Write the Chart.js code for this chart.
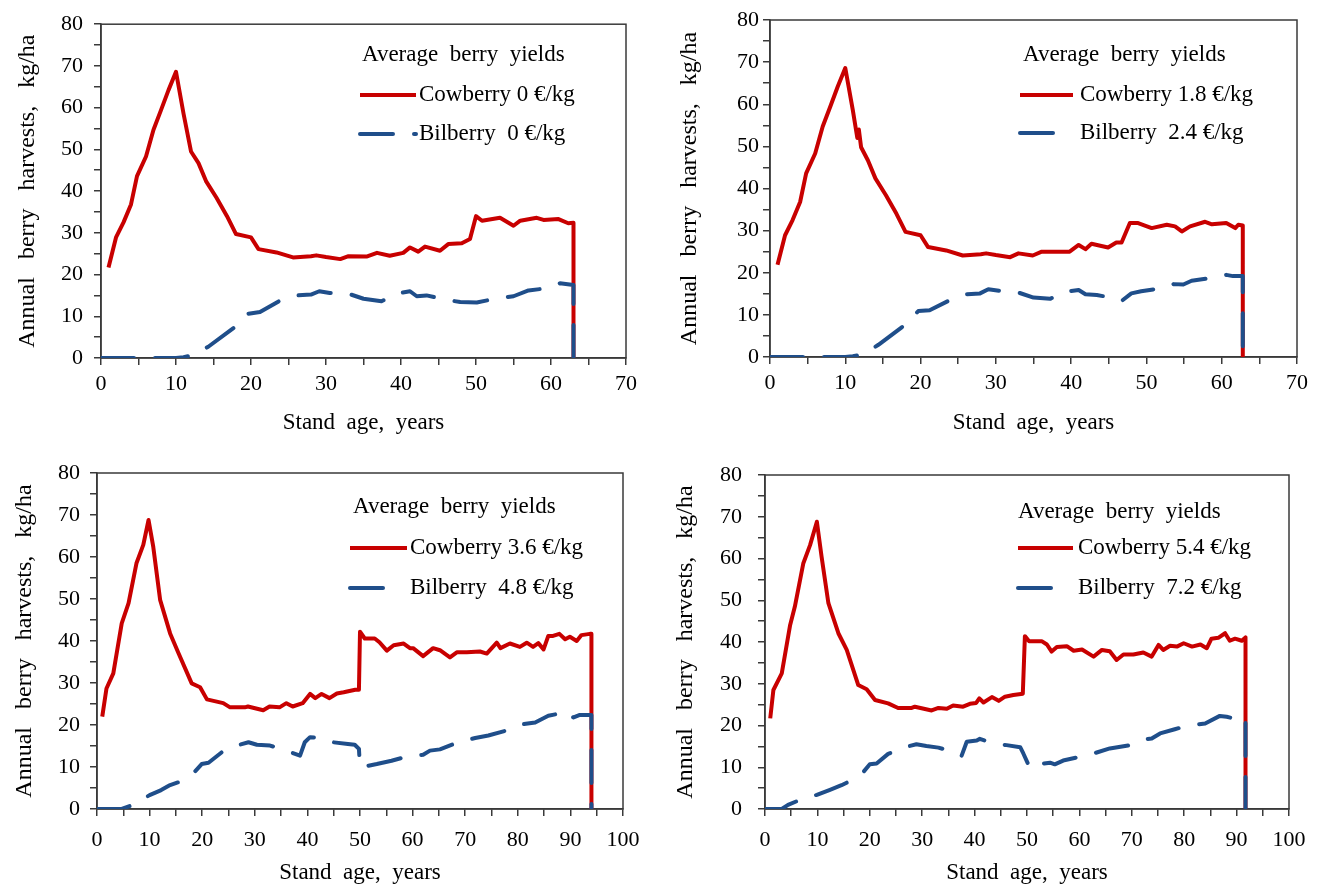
<!DOCTYPE html>
<html>
<head>
<meta charset="utf-8">
<script src="https://cdn.jsdelivr.net/npm/chart.js@4.4.1/dist/chart.umd.min.js"></script>
<style>
  html, body { margin: 0; padding: 0; background: #fff; }
  #wrap { position: relative; width: 1320px; height: 889px; overflow: hidden; }
  canvas { position: absolute; }
</style>
</head>
<body>
<div id="wrap">
  <canvas id="c1" width="660" height="445" style="left:0;top:0"></canvas>
  <canvas id="c2" width="660" height="445" style="left:660px;top:0"></canvas>
  <canvas id="c3" width="660" height="444" style="left:0;top:445px"></canvas>
  <canvas id="c4" width="660" height="444" style="left:660px;top:445px"></canvas>
</div>
<script>
// ---- data (stand age, years -> kg/ha) ----
const ageCow1 = [1, 2, 3, 4, 4.8, 6, 7, 8, 9, 10, 11, 12, 13, 14, 15.4, 16.8, 18, 20, 21, 23.4, 25.6, 28, 28.7, 30, 31.9, 33, 35.4, 36.8, 38.5, 40.3, 41.2, 42.3, 43.2, 45.2, 46.3, 48.1, 49.2, 50, 50.8, 53.2, 55, 55.9, 58.1, 59, 61, 62.3, 63, 63];
const cow1 = [21.7, 28.9, 32.5, 36.8, 43.6, 48.3, 54.7, 59.4, 64.2, 68.6, 58.6, 49.5, 46.7, 42.4, 38.4, 34, 29.7, 28.9, 26.1, 25.3, 24.1, 24.4, 24.6, 24.2, 23.7, 24.4, 24.3, 25.2, 24.5, 25.2, 26.5, 25.5, 26.7, 25.7, 27.3, 27.5, 28.5, 34, 32.9, 33.6, 31.7, 32.9, 33.6, 33.1, 33.3, 32.3, 32.4, 0];
const ageBil1 = [0, 10, 11, 12.3, 14.3, 17.9, 19.6, 21.2, 23.9, 26.1, 28, 29.1, 30.5, 33, 35, 37.4, 39.4, 41.2, 42.1, 43.4, 45.9, 47.9, 50.1, 52.5, 55, 57, 59.4, 61.2, 63, 63];
const bil1 = [0, 0, 0.2, 0.7, 2.7, 7.5, 10.6, 11, 13.8, 15, 15.2, 16, 15.6, 15.4, 14.2, 13.6, 15.4, 16, 14.8, 15, 14, 13.4, 13.3, 14.2, 14.8, 16.2, 16.7, 17.9, 17.5, 0];

const ageCow2 = [1, 2, 3, 4, 4.8, 6, 7, 8, 9, 10, 11, 11.6, 11.8, 12.1, 13, 14, 15.4, 16.8, 18, 20, 21, 23.4, 25.6, 28, 28.7, 30, 31.9, 33, 34.9, 36.1, 39.8, 41, 41.9, 42.7, 44.9, 46, 46.7, 47.8, 48.9, 50.7, 52.7, 53.8, 54.7, 55.8, 57.8, 58.7, 60.6, 61.8, 62.2, 62.8, 62.8];
const cow2 = [21.9, 28.9, 32.5, 36.8, 43.6, 48.3, 54.7, 59.4, 64.2, 68.6, 58.6, 52, 54, 49.8, 46.7, 42.4, 38.4, 34, 29.7, 28.9, 26.1, 25.3, 24.1, 24.4, 24.6, 24.2, 23.7, 24.6, 24.1, 25, 25, 26.6, 25.6, 26.9, 26, 27.2, 27.2, 31.8, 31.8, 30.6, 31.4, 31, 29.8, 31, 32.1, 31.5, 31.8, 30.6, 31.4, 31.2, 0];
const ageBil2 = [0, 10, 11, 12.4, 14.4, 17.9, 19.7, 21.2, 23.9, 26.1, 27.9, 29, 30.6, 33, 35, 37.2, 38.9, 41, 41.9, 43.4, 45.4, 46.7, 48, 49.3, 51.8, 53.6, 54.9, 56, 58.4, 60.6, 61.5, 62.8, 62.8];
const bil2 = [0, 0, 0.2, 0.6, 2.9, 7.6, 10.9, 11.1, 13.5, 14.9, 15.1, 16.1, 15.7, 15.3, 14.1, 13.8, 15.4, 15.9, 14.9, 14.7, 14.1, 13.3, 15.1, 15.6, 16.3, 17.3, 17.2, 18.1, 18.7, 19.5, 19.2, 19.2, 0];

const ageCow3 = [1, 1.8, 3.1, 4.7, 6, 7.5, 8.8, 9.8, 10.7, 12, 13.9, 15.5, 18, 19.6, 20.9, 24, 25.3, 28.1, 28.7, 31.6, 32.8, 34.7, 36, 37.2, 39.1, 40.5, 41.5, 42.7, 44.2, 45.6, 46.9, 49.1, 49.8, 50, 50.9, 52.8, 53.7, 55.1, 56.4, 58.3, 59.5, 60.1, 62, 63.9, 65.2, 67.1, 68.4, 70.3, 72.8, 74.1, 76, 76.7, 78.5, 80.4, 81.7, 82.9, 83.9, 84.9, 85.8, 86.7, 87.9, 89, 89.9, 91.2, 92.1, 93.7, 94, 94];
const cow3 = [22, 28.7, 32.3, 44.2, 49, 58.5, 62.9, 68.8, 62.4, 49.8, 41.8, 37.1, 29.9, 29, 26.1, 25.2, 24.2, 24.2, 24.4, 23.5, 24.4, 24.2, 25.2, 24.4, 25.2, 27.4, 26.4, 27.4, 26.4, 27.5, 27.8, 28.4, 28.4, 42.2, 40.6, 40.6, 39.7, 37.7, 39, 39.4, 38.3, 38.3, 36.4, 38.3, 37.8, 36.1, 37.3, 37.3, 37.5, 37, 39.6, 38.3, 39.4, 38.6, 39.6, 38.6, 39.5, 38, 41.2, 41.2, 41.7, 40.4, 41, 40, 41.4, 41.7, 41.7, 0];
const ageBil3 = [0, 4.7, 6.9, 10, 12.2, 13.9, 15.8, 18.6, 19.9, 21.2, 23.7, 26.5, 28.8, 30.4, 32.9, 36, 38.6, 39.5, 40.5, 43.6, 44.8, 47.7, 49, 49.8, 50, 53.2, 56, 59.5, 62, 63.3, 65.2, 68.7, 71.9, 74.4, 77.9, 79.8, 81.1, 83.3, 85.8, 87.4, 88.7, 89.3, 90.6, 91.8, 94, 94];
const bil3 = [0, 0, 1, 3.3, 4.5, 5.7, 6.5, 8.9, 10.7, 11, 13.5, 15.1, 15.9, 15.3, 15.1, 13.9, 12.7, 15.9, 17.1, 16.7, 15.9, 15.5, 15.3, 14.3, 9.9, 10.7, 11.5, 12.7, 12.9, 13.9, 14.2, 15.9, 16.9, 17.5, 18.7, 19.7, 20.2, 20.6, 22.2, 22.6, 21.8, 22.6, 21.8, 22.4, 22.4, 0];

const ageCow4 = [1, 1.6, 3.2, 4.8, 5.7, 7.3, 8.6, 9.9, 10.8, 12.1, 14, 15.6, 17.8, 19.4, 21, 23.5, 25.4, 28, 28.6, 31.8, 33.1, 34.7, 35.9, 37.8, 39.1, 40.3, 40.9, 41.7, 43.3, 44.6, 45.8, 47.4, 49.2, 49.6, 50.4, 52.8, 53.8, 54.7, 55.7, 57.6, 58.9, 60.5, 62.7, 64.3, 65.8, 67.1, 68.4, 70.3, 72.2, 73.8, 75.1, 76, 77.3, 78.6, 79.9, 81.5, 83.1, 84.3, 85.2, 86.5, 87.8, 88.7, 89.7, 91, 91.7, 91.7];
const cow4 = [21.7, 28.5, 32.5, 44.1, 48.5, 58.8, 63.2, 68.8, 60.4, 49.3, 42.1, 38.1, 29.7, 28.7, 26.1, 25.3, 24.2, 24.2, 24.5, 23.6, 24.2, 24, 24.8, 24.5, 25.2, 25.4, 26.5, 25.5, 26.8, 25.9, 26.9, 27.3, 27.6, 41.4, 40.2, 40.2, 39.4, 37.7, 38.8, 39, 37.9, 38.2, 36.5, 38.1, 37.8, 35.7, 37, 37, 37.5, 36.5, 39.3, 38.1, 39.1, 38.9, 39.7, 38.9, 39.4, 38.5, 40.8, 41, 42.1, 40.3, 40.8, 40.3, 41.1, 0];
const ageBil4 = [0, 3.2, 4.4, 6.7, 9.9, 12.4, 14.6, 15.9, 18.8, 20, 21.3, 23.5, 27, 28.9, 30.8, 33.1, 36.3, 37.5, 38.5, 40.4, 41, 43.9, 46.1, 48.7, 49.3, 50.6, 53.1, 54.4, 55.3, 56.9, 60.1, 62.7, 65.8, 69.7, 71.6, 73.8, 75.4, 78.2, 80.2, 82.1, 84, 86.8, 88.1, 89.4, 90.7, 91.7, 91.7];
const bil4 = [0, 0, 1, 2.2, 3.4, 4.6, 5.7, 6.5, 8.9, 10.7, 10.9, 13.2, 14.9, 15.5, 15.1, 14.7, 13.5, 12.7, 16.1, 16.4, 16.8, 15.6, 15.3, 14.8, 13.3, 9.7, 10.9, 11.1, 10.7, 11.6, 12.5, 13.3, 14.5, 15.3, 16.5, 16.9, 18.1, 19.1, 19.8, 20.2, 20.5, 22.3, 22.1, 21.7, 21.9, 21.9, 0];

const cowLabels = ['Cowberry 0 €/kg', 'Cowberry 1.8 €/kg', 'Cowberry 3.6 €/kg', 'Cowberry 5.4 €/kg'];
const bilLabels = ['Bilberry  0 €/kg', 'Bilberry  2.4 €/kg', 'Bilberry  4.8 €/kg', 'Bilberry  7.2 €/kg'];
const xMaxes = [70, 70, 100, 100];
const yMax = 80;
const legendTitle = 'Average  berry  yields';
const xTitle = 'Stand  age,  years';
const yTitle = 'Annual   berry   harvests,   kg/ha';

// ---- styling ----
const FONT = '"Times New Roman", "Liberation Serif", serif';
const RED = '#c80000';
const BLUE = '#1f4e8a';
const AXIS = '#3a3a3a';

// plot box per canvas (canvas-local px) and text offsets
const layouts = [
  { area: { left: 101, top: 22, right: 626, bottom: 358 }, yPad: 11, xPad: 6, yTitlePad: 13, xTitlePad: 8,
    legend: { titleX: 362, titleY: 55, x0: 360, x1: [416, 416], textX: 419, rows: [95, 134] } },
  { area: { left: 110, top: 20, right: 637, bottom: 357 }, yPad: 4, xPad: 6, yTitlePad: 15, xTitlePad: 8,
    legend: { titleX: 363, titleY: 55, x0: 360, x1: [413, 402], textX: 420, rows: [95, 133] } },
  { area: { left: 97, top: 28, right: 623, bottom: 364 }, yPad: 10, xPad: 11, yTitlePad: 10, xTitlePad: 2,
    legend: { titleX: 353, titleY: 62, x0: 350, x1: [407, 397], textX: 410, rows: [103, 143] } },
  { area: { left: 105, top: 30, right: 629, bottom: 364 }, yPad: 16, xPad: 11, yTitlePad: 11, xTitlePad: 2,
    legend: { titleX: 358, titleY: 67, x0: 358, x1: [413, 403], textX: 418, rows: [103, 143] } }
];

function pts(xs, ys) { return xs.map((x, i) => ({ x: x, y: ys[i] })); }

// box around the plot area (Excel style frame)
const frame = {
  id: 'frame',
  beforeDatasetsDraw(chart) {
    const a = chart.chartArea, ctx = chart.ctx;
    ctx.save();
    ctx.strokeStyle = AXIS;
    ctx.lineWidth = 1.5;
    ctx.strokeRect(a.left, a.top, a.right - a.left, a.bottom - a.top);
    ctx.restore();
  }
};

// legend drawn inside the plot, with a title line above the two entries
const boxLegend = {
  id: 'boxLegend',
  afterDatasetsDraw(chart, args, o) {
    const ctx = chart.ctx;
    ctx.save();
    ctx.fillStyle = '#000';
    ctx.font = '23px ' + FONT;
    ctx.textBaseline = 'middle';
    ctx.textAlign = 'left';
    ctx.fillText(o.title, o.titleX, o.titleY);
    chart.data.datasets.forEach((ds, i) => {
      const y = o.rows[i];
      ctx.strokeStyle = ds.borderColor;
      ctx.lineWidth = ds.borderWidth;
      ctx.lineCap = ds.borderCapStyle || 'butt';
      ctx.setLineDash(ds.borderDash || []);
      ctx.beginPath();
      ctx.moveTo(o.x0, y);
      ctx.lineTo(o.x1[i], y);
      ctx.stroke();
      ctx.setLineDash([]);
      ctx.fillText(ds.label, o.textX, y);
    });
    ctx.restore();
  }
};

const panels = [
  [ageCow1, cow1, ageBil1, bil1],
  [ageCow2, cow2, ageBil2, bil2],
  [ageCow3, cow3, ageBil3, bil3],
  [ageCow4, cow4, ageBil4, bil4]
];

panels.forEach((p, k) => {
  const canvas = document.getElementById('c' + (k + 1));
  const L = layouts[k];
  const W = canvas.width, H = canvas.height;
  const tickFont = { family: FONT, size: 22 };
  const axisCommon = {
    grid: { drawOnChartArea: false, drawTicks: true, tickLength: 7, color: AXIS, lineWidth: 1.5 },
    border: { display: true, color: AXIS, width: 1.5 }
  };

  new Chart(canvas.getContext('2d'), {
    type: 'line',
    data: {
      datasets: [
        { label: cowLabels[k], data: pts(p[0], p[1]), borderColor: RED, borderWidth: 4,
          borderJoinStyle: 'round', order: 1 },
        { label: bilLabels[k], data: pts(p[2], p[3]), borderColor: BLUE, borderWidth: 4,
          borderDash: [33, 21], borderCapStyle: 'round', borderJoinStyle: 'round', order: 0 }
      ]
    },
    options: {
      responsive: false,
      animation: false,
      devicePixelRatio: 1,
      layout: { padding: { left: 0, top: L.area.top, right: W - L.area.right, bottom: 0 } },
      elements: { point: { radius: 0, hoverRadius: 0 }, line: { tension: 0, fill: false } },
      plugins: {
        legend: { display: false },
        tooltip: { enabled: false },
        boxLegend: Object.assign({ title: legendTitle }, L.legend)
      },
      scales: {
        x: Object.assign({}, axisCommon, {
          type: 'linear', min: 0, max: xMaxes[k],
          afterFit: s => { s.height = H - L.area.bottom; },
          ticks: { stepSize: 5, autoSkip: false, maxRotation: 0, minRotation: 0, color: '#000',
                   font: tickFont, padding: L.xPad,
                   callback: v => (v % 10 === 0 ? String(v) : '') },
          title: { display: true, text: xTitle, color: '#000', font: { family: FONT, size: 23 },
                   padding: { top: 0, bottom: L.xTitlePad } }
        }),
        y: Object.assign({}, axisCommon, {
          type: 'linear', min: 0, max: yMax,
          afterFit: s => { s.width = L.area.left; },
          ticks: { stepSize: 5, autoSkip: false, color: '#000', font: tickFont, padding: L.yPad,
                   callback: v => (v % 10 === 0 ? String(v) : '') },
          title: { display: true, text: yTitle, color: '#000', font: { family: FONT, size: 24 },
                   padding: { top: L.yTitlePad, bottom: 0 } }
        })
      }
    },
    plugins: [frame, boxLegend]
  });
});
</script>
</body>
</html>
